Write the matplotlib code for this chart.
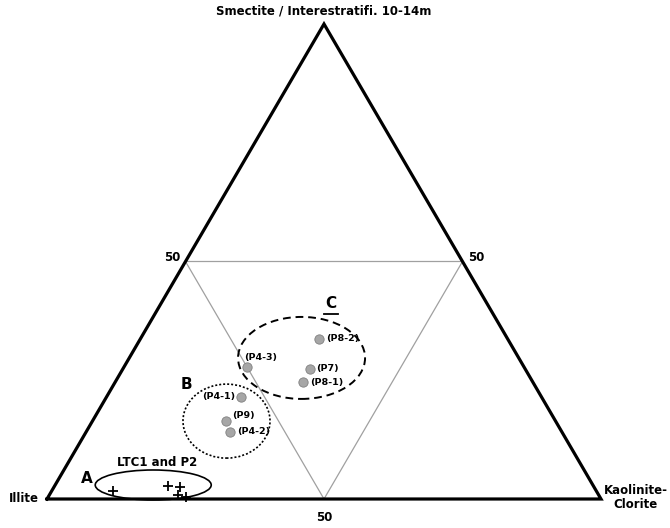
import numpy as np
import matplotlib.pyplot as plt
from matplotlib.patches import Ellipse
from matplotlib.transforms import offset_copy

# compositions as fractions (kaolinite-clorite, smectite); illite is the rest
sample_names = ["(P8-2)", "(P4-3)", "(P7)", "(P8-1)", "(P4-1)", "(P9)", "(P4-2)"]
sample_kao = [0.322, 0.222, 0.337, 0.339, 0.242, 0.242, 0.259]
sample_sme = [0.337, 0.277, 0.274, 0.246, 0.215, 0.164, 0.142]

ltc_kao = [0.111, 0.204, 0.228, 0.233, 0.249]
ltc_sme = [0.017, 0.028, 0.025, 0.008, 0.005]

# group ellipse centres
group_names = ["A", "B", "C"]
group_kao = [0.177, 0.242, 0.311]
group_sme = [0.0295, 0.164, 0.297]

H = np.sqrt(3) / 2


def tern(k, s):
    k = np.asarray(k, float)
    s = np.asarray(s, float)
    return k + s / 2, s * H


fig = plt.figure(figsize=(6.7, 5.28), dpi=100)
ax = fig.add_axes([0, 0, 1, 1])
sx = 554.0
sy = 475.0 / H
ax.set_xlim(-47 / sx, (670 - 47) / sx)
ax.set_ylim(-(528 - 499) / sy, 499 / sy)
ax.axis("off")

# outer triangle
tx, ty = tern([0, 1, 0, 0], [0, 0, 1, 0])
ax.plot(tx, ty, color="black", lw=2.3, solid_joinstyle="miter", zorder=3)
# inner 50% triangle
ix, iy = tern([0, 0.5, 0.5, 0], [0.5, 0.5, 0, 0.5])
ax.plot(ix, iy, color="#a0a0a0", lw=0.9, zorder=1)

bold = dict(fontweight="bold", family="DejaVu Sans")
ax.annotate("Smectite / Interestratifi. 10-14m", tern(0, 1), xytext=(0, 5), textcoords="offset points",
            ha="center", va="bottom", fontsize=8.5, **bold)
ax.annotate("Illite", tern(0, 0), xytext=(-6, 0), textcoords="offset points",
            ha="right", va="center", fontsize=8.5, **bold)
ax.annotate("Kaolinite-\nClorite", tern(1, 0), xytext=(25, 1), textcoords="offset points",
            ha="center", va="center", fontsize=8.5, **bold, linespacing=1.1)
ax.annotate("50", tern(0, 0.5), xytext=(-4, 3), textcoords="offset points",
            ha="right", va="center", fontsize=8.5, **bold)
ax.annotate("50", tern(0.5, 0.5), xytext=(4, 3), textcoords="offset points",
            ha="left", va="center", fontsize=8.5, **bold)
ax.annotate("50", tern(0.5, 0), xytext=(0, -13), textcoords="offset points",
            ha="center", va="center", fontsize=8.5, **bold)

# group ellipses
gx, gy = tern(group_kao, group_sme)
ax.add_patch(Ellipse((gx[0], gy[0]), 116 / sx, 30 / sy, fill=False, ec="black", lw=1.2))
ax.add_patch(Ellipse((gx[1], gy[1]), 87 / sx, 74 / sy, fill=False, ec="black", lw=1.2,
                     ls=(0, (1.2, 1.2))))
ax.add_patch(Ellipse((gx[2], gy[2]), 127 / sx, 82 / sy, fill=False, ec="black", lw=1.4,
                     ls=(0, (4, 2.5))))

ax.annotate("A", (gx[0], gy[0]), xytext=(-48, 5), textcoords="offset points",
            ha="center", va="center", fontsize=11, **bold)
ax.annotate("LTC1 and P2", (gx[0], gy[0]), xytext=(3, 16), textcoords="offset points",
            ha="center", va="center", fontsize=8.5, **bold)
ax.annotate("B", (gx[1], gy[1]), xytext=(-29, 26), textcoords="offset points",
            ha="center", va="center", fontsize=11, **bold)
ax.annotate("C", (gx[2], gy[2]), xytext=(21, 39), textcoords="offset points",
            ha="center", va="center", fontsize=11, **bold)
# underline of C
t0 = offset_copy(ax.transData, fig=fig, x=16, y=31.5, units="points")
t1 = offset_copy(ax.transData, fig=fig, x=26, y=31.5, units="points")
p0 = t0.transform((gx[2], gy[2]))
p1 = t1.transform((gx[2], gy[2]))
ax.plot([p0[0], p1[0]], [p0[1], p1[1]], color="black", lw=1.3, transform=None)

# samples
px, py = tern(sample_kao, sample_sme)
ax.scatter(px, py, s=45, color="#a6a6a6", edgecolor="#808080", lw=0.6, zorder=4)
offsets = {
    "(P8-2)": ((5, 0), "left"),
    "(P4-3)": ((-2, 7), "left"),
    "(P7)": ((5, 0), "left"),
    "(P8-1)": ((5, 0), "left"),
    "(P4-1)": ((-4, 0), "right"),
    "(P9)": ((4, 4), "left"),
    "(P4-2)": ((5, 0), "left"),
}
for name, x, y in zip(sample_names, px, py):
    off, ha = offsets[name]
    ax.annotate(name, (x, y), xytext=off, textcoords="offset points",
                ha=ha, va="center", fontsize=6.8, **bold)

lx, ly = tern(ltc_kao, ltc_sme)
ax.scatter(lx, ly, marker="+", s=60, color="black", lw=1.3, zorder=4)

fig.savefig("out.png", dpi=100)
